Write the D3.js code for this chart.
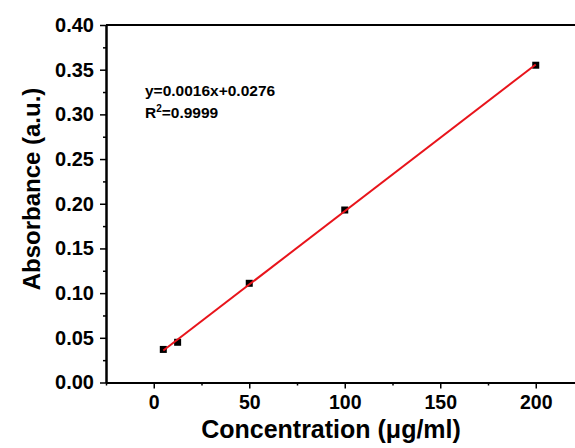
<!DOCTYPE html>
<html><head><meta charset="utf-8">
<script src="https://cdn.jsdelivr.net/npm/d3@7"></script>
<style>body{margin:0;background:#fff}svg{display:block}</style>
</head><body>
<script>
const concentration = [5, 12.5, 50, 100, 200];
const absorbance = [0.037, 0.045, 0.111, 0.193, 0.355];
const xTicks = [0, 50, 100, 150, 200];
const yTicks = [0, 0.05, 0.10, 0.15, 0.20, 0.25, 0.30, 0.35, 0.40];
const equationText = "y=0.0016x+0.0276";
const r2Text = "0.9999";

const W = 575, H = 448;
const svg = d3.select("body").append("svg").attr("width", W).attr("height", H);
const font = "'Liberation Sans', Arial, sans-serif";

const x = d3.scaleLinear().domain([-25, 225]).range([106, 583.5]);
const y = d3.scaleLinear().domain([0, 0.40]).range([382.5, 25]);

// least-squares fit from data
const n = concentration.length;
const mx = d3.mean(concentration), my = d3.mean(absorbance);
let sxy = 0, sxx = 0;
for (let i = 0; i < n; i++) { sxy += (concentration[i]-mx)*(absorbance[i]-my); sxx += (concentration[i]-mx)**2; }
const slope = sxy/sxx, intercept = my - slope*mx;

// axes
const xAxis = d3.axisBottom(x).tickValues(xTicks).tickSize(6).tickSizeOuter(0).tickPadding(7).tickFormat(d3.format("d"));
const xMinor = d3.axisBottom(x).tickValues([-25, 25, 75, 125, 175, 225]).tickSize(3).tickSizeOuter(0).tickFormat("");
const yAxis = d3.axisLeft(y).tickValues(yTicks).tickSize(6).tickSizeOuter(0).tickPadding(6).tickFormat(d3.format(".2f"));
const yMinor = d3.axisLeft(y).tickValues(d3.range(0.025, 0.4, 0.05)).tickSize(3).tickSizeOuter(0).tickFormat("");

function style(g, fs) {
  g.selectAll("path.domain").attr("stroke", "#000").attr("stroke-width", 2);
  g.selectAll(".tick line").attr("stroke", "#000").attr("stroke-width", 1.5);
  g.selectAll("text").attr("font-family", font).attr("font-weight", "bold").attr("font-size", fs || 20).attr("fill", "#000");
}
svg.append("g").attr("transform", `translate(0,${y(0)})`).call(xMinor).call(style);
svg.append("g").attr("transform", `translate(0,${y(0)})`).call(xAxis).call(style, 19.5);
svg.append("g").attr("transform", `translate(${x(-25)},0)`).call(yMinor).call(style);
svg.append("g").attr("transform", `translate(${x(-25)},0)`).call(yAxis).call(style);
// top border
svg.append("line").attr("x1", x(-25)).attr("x2", x(225)).attr("y1", y(0.4)).attr("y2", y(0.4)).attr("stroke", "#000").attr("stroke-width", 2);

// markers
svg.append("g").selectAll("rect").data(concentration).join("rect")
  .attr("x", (d) => x(d) - 3.5).attr("y", (d, i) => y(absorbance[i]) - 3.5)
  .attr("width", 7).attr("height", 7).attr("fill", "#000");

// fit line
const x0 = d3.min(concentration), x1 = d3.max(concentration);
svg.append("line")
  .attr("x1", x(x0)).attr("y1", y(intercept + slope*x0))
  .attr("x2", x(x1)).attr("y2", y(intercept + slope*x1))
  .attr("stroke", "#e8141b").attr("stroke-width", 2);

// annotation
svg.append("text").attr("x", 145).attr("y", 96).attr("font-family", font).attr("font-weight", "bold")
  .attr("font-size", 15.5).text(equationText);
const r2 = svg.append("text").attr("x", 145).attr("y", 118).attr("font-family", font).attr("font-weight", "bold").attr("font-size", 15.5);
r2.append("tspan").text("R");
r2.append("tspan").attr("dy", -6).attr("font-size", 10).text("2");
r2.append("tspan").attr("dy", 6).text("=" + r2Text);

// axis titles
svg.append("text").attr("x", 331).attr("y", 438).attr("text-anchor", "middle")
  .attr("font-family", font).attr("font-weight", "bold").attr("font-size", 25).text("Concentration (μg/ml)");
svg.append("text").attr("transform", `translate(40,189) rotate(-90)`).attr("text-anchor", "middle")
  .attr("font-family", font).attr("font-weight", "bold").attr("font-size", 24).text("Absorbance (a.u.)");
</script>
</body></html>
